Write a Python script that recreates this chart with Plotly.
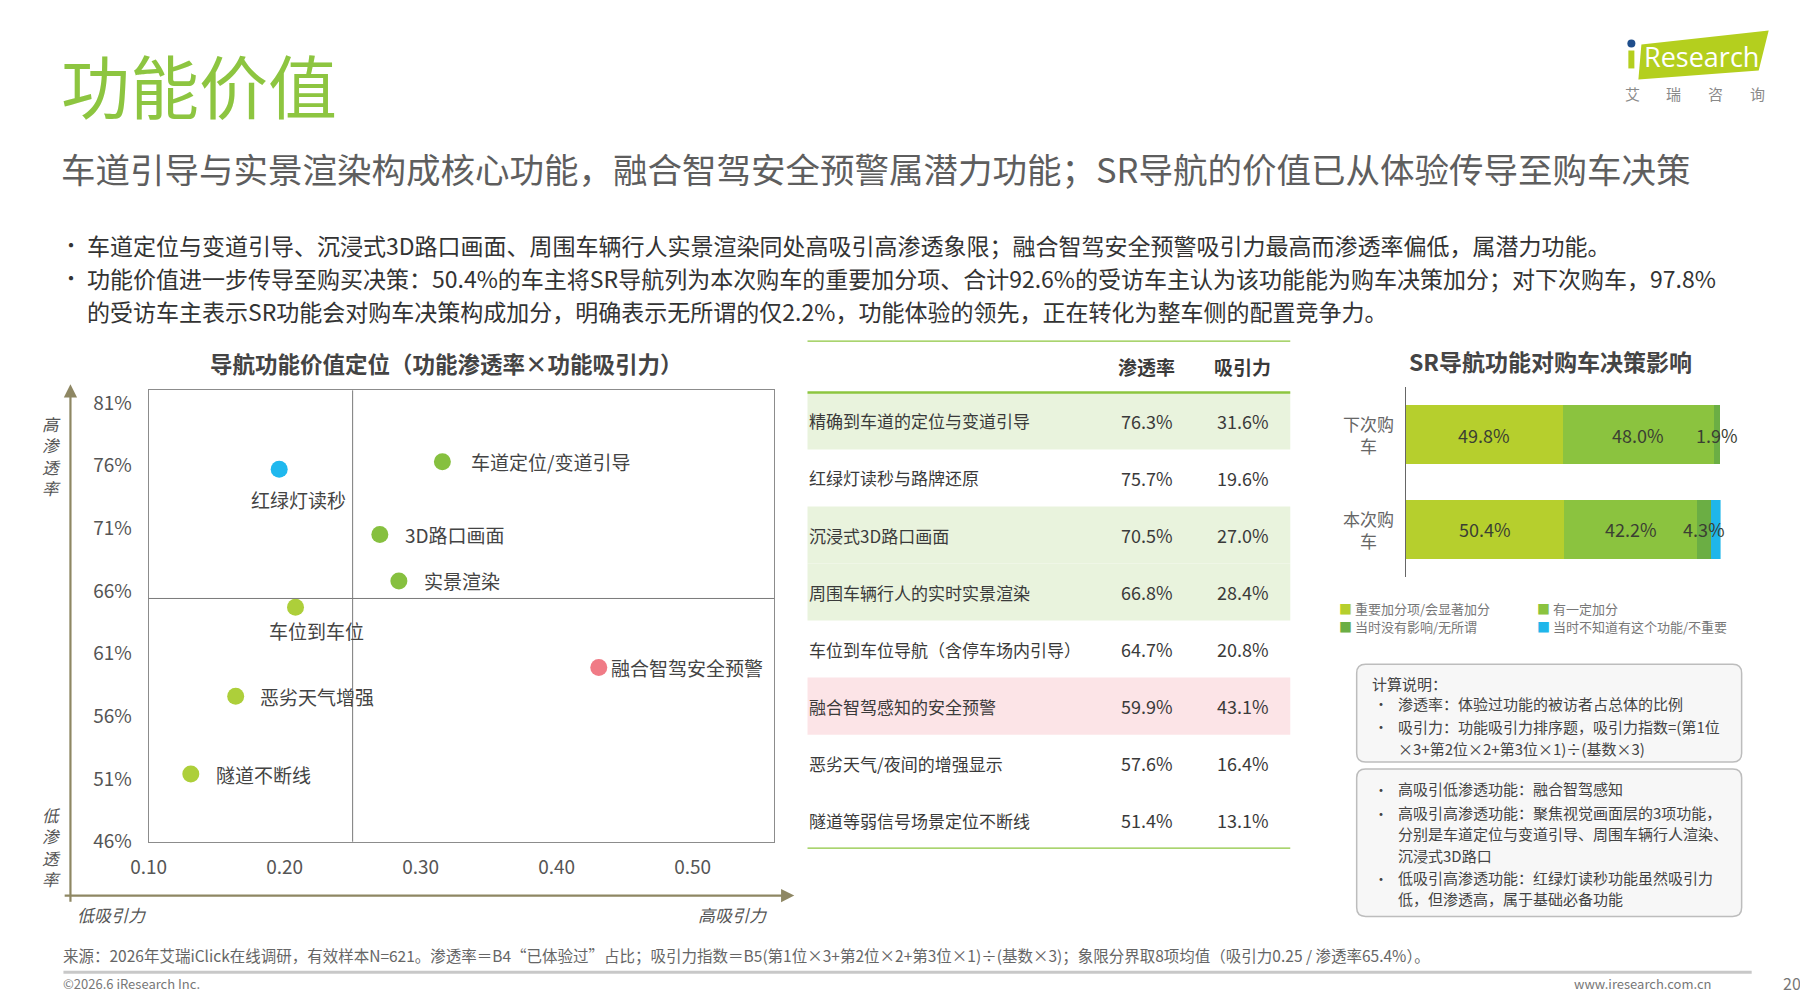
import plotly.graph_objects as go

W, H = 1808, 1006
FONT = "Noto Sans CJK SC"

# ---------------- data ----------------
features_full = ["精确到车道的定位与变道引导", "红绿灯读秒与路牌还原", "沉浸式3D路口画面",
                 "周围车辆行人的实时实景渲染", "车位到车位导航（含停车场内引导）",
                 "融合智驾感知的安全预警", "恶劣天气/夜间的增强显示", "隧道等弱信号场景定位不断线"]
features_short = ["车道定位/变道引导", "红绿灯读秒", "3D路口画面", "实景渲染",
                  "车位到车位", "融合智驾安全预警", "恶劣天气增强", "隧道不断线"]
penetration = [76.3, 75.7, 70.5, 66.8, 64.7, 59.9, 57.6, 51.4]   # %
attraction = [31.6, 19.6, 27.0, 28.4, 20.8, 43.1, 16.4, 13.1]    # %
quadrant = ["核心", "基础", "核心", "核心", "其他", "潜力", "其他", "其他"]

x_ticks = [0.10, 0.20, 0.30, 0.40, 0.50]
x_ticklabels = ["0.10", "0.20", "0.30", "0.40", "0.50"]
y_ticks = [46, 51, 56, 61, 66, 71, 76, 81]
y_ticklabels = ["46%", "51%", "56%", "61%", "66%", "71%", "76%", "81%"]
split_attraction = 0.25
split_penetration = 65.4

bar_categories = ["下次购车", "本次购车"]
bar_category_labels = ["下次购<br>车", "本次购<br>车"]
bar_series = ["重要加分项/会显著加分", "有一定加分", "当时没有影响/无所谓", "当时不知道有这个功能/不重要"]
bar_values = {
    "重要加分项/会显著加分": [49.8, 50.4],
    "有一定加分": [48.0, 42.2],
    "当时没有影响/无所谓": [1.9, 4.3],
    "当时不知道有这个功能/不重要": [0.0, 3.1],
}
bar_value_shown = {
    "重要加分项/会显著加分": [True, True],
    "有一定加分": [True, True],
    "当时没有影响/无所谓": [True, True],
    "当时不知道有这个功能/不重要": [False, False],
}
logo_chars = ["艾", "瑞", "咨", "询"]

# ---------------- styles ----------------
quad_color = {"核心": "#86C03F", "基础": "#1FB8EE", "其他": "#ADCF3A", "潜力": "#F07B86"}
row_fill = {"核心": "#E9F3DD", "潜力": "#FCE4E7", "基础": None, "其他": None}
bar_colors = ["#B6CF2D", "#8BC33F", "#6BAE44", "#1FB6EA"]
# label placement (pixel offsets from the point): (xanchor, xshift, yshift)
label_place = [("left", 27, 0), ("center", 19, -30), ("left", 23, 0), ("left", 23, 0),
               ("center", 21, -23), ("left", 10, 0), ("left", 22, 0), ("left", 23, 0)]

# screen calibration
SX, OX = 1.0126, -27.0
SY, OY = 1.0116, -12.5


def cx(x):
    return SX * x + OX


def cy(y):
    return SY * y + OY


def px(x):
    return cx(x) / W


def py(y):
    return 1 - cy(y) / H


fig = go.Figure()
annotations = []
shapes = []


def text(x, y, s, size=15, color="#444", xanchor="left", bold=False, italic=False,
         family=FONT, yanchor="middle", align="left"):
    annotations.append(dict(
        x=px(x), y=py(y), xref="paper", yref="paper", text=f"<b>{s}</b>" if bold else s,
        showarrow=False, xanchor=xanchor, yanchor=yanchor, align=align,
        font=dict(size=size, color=color, family=family, style="italic" if italic else "normal")))


# ---------------- header ----------------
text(60, 86, "功能价值", size=69, color="#8DC540")
text(60, 170, "车道引导与实景渲染构成核心功能，融合智驾安全预警属潜力功能；SR导航的价值已从体验传导至购车决策",
     size=34.5, color="#5E5E5E")
text(60, 247, "•", size=20, color="#333")
text(86, 247, "车道定位与变道引导、沉浸式3D路口画面、周围车辆行人实景渲染同处高吸引高渗透象限；融合智驾安全预警吸引力最高而渗透率偏低，属潜力功能。",
     size=23, color="#333")
text(60, 280, "•", size=20, color="#333")
text(86, 280, "功能价值进一步传导至购买决策：50.4%的车主将SR导航列为本次购车的重要加分项、合计92.6%的受访车主认为该功能能为购车决策加分；对下次购车，97.8%",
     size=23, color="#333")
text(86, 313, "的受访车主表示SR功能会对购车决策构成加分，明确表示无所谓的仅2.2%，功能体验的领先，正在转化为整车侧的配置竞争力。",
     size=23, color="#333")

# logo
shapes.append(dict(type="path", xref="paper", yref="paper",
                   path=f"M {px(1638)} {py(46)} L {px(1765)} {py(32)} L {px(1755)} {py(72)} L {px(1635)} {py(81)} Z",
                   fillcolor="#B4CF1E", line=dict(width=0)))
shapes.append(dict(type="circle", xref="paper", yref="paper",
                   x0=px(1624), x1=px(1632), y0=py(49), y1=py(41), fillcolor="#1F4E8C", line=dict(width=0)))
shapes.append(dict(type="rect", xref="paper", yref="paper",
                   x0=px(1625), x1=px(1631), y0=py(70), y1=py(52), fillcolor="#B4CF1E", line=dict(width=0)))
text(1639, 58, "Research", size=27, color="white", family="Open Sans")
for k, ch in enumerate(logo_chars):
    text(1629 + 41.5 * k, 95, ch, size=15, color="#8A8A8A", xanchor="center")

# ---------------- scatter (quadrant) ----------------
text(446, 366, "导航功能价值定位（功能渗透率×功能吸引力）", size=22.5, color="#444", xanchor="center", bold=True)

fig.add_trace(go.Scatter(
    x=[a / 100 for a in attraction], y=penetration, mode="markers",
    marker=dict(size=17, color=[quad_color[q] for q in quadrant], line=dict(width=0)),
    xaxis="x", yaxis="y", showlegend=False, hoverinfo="skip"))

for i, name in enumerate(features_short):
    xa, xs, ys = label_place[i]
    annotations.append(dict(x=attraction[i] / 100, y=penetration[i], xref="x", yref="y", text=name,
                            showarrow=False, xanchor=xa, yanchor="middle", xshift=xs, yshift=ys,
                            font=dict(size=19, color="#444", family=FONT)))

shapes.append(dict(type="line", xref="x", yref="y domain", x0=split_attraction, x1=split_attraction,
                   y0=0, y1=1, line=dict(color="#7A7A7A", width=1)))
shapes.append(dict(type="line", xref="x domain", yref="y", x0=0, x1=1, y0=split_penetration,
                   y1=split_penetration, line=dict(color="#7A7A7A", width=1)))

# outer arrows
ARROW = "#8E8763"
annotations.append(dict(x=px(71), y=py(387), xref="paper", yref="paper", ax=0, ay=cy(900) - cy(387),
                        axref="pixel", ayref="pixel", showarrow=True, arrowhead=2, arrowsize=1.2,
                        arrowwidth=2.2, arrowcolor=ARROW, text="", standoff=0))
annotations.append(dict(x=px(793), y=py(900), xref="paper", yref="paper", ax=cx(71) - cx(793), ay=0,
                        axref="pixel", ayref="pixel", showarrow=True, arrowhead=2, arrowsize=1.2,
                        arrowwidth=2.2, arrowcolor=ARROW, text="", standoff=0))
text(52, 459, "高<br>渗<br>透<br>率", size=16.5, color="#555", xanchor="center", italic=True, align="center")
text(52, 851, "低<br>渗<br>透<br>率", size=16.5, color="#555", xanchor="center", italic=True, align="center")
text(112, 919, "低吸引力", size=17, color="#555", xanchor="center", italic=True)
text(732, 919, "高吸引力", size=17, color="#555", xanchor="center", italic=True)

# ---------------- table ----------------
n = len(features_full)
for i in range(n):
    f = row_fill[quadrant[i]]
    if f:
        shapes.append(dict(type="rect", xref="x3", yref="y3", x0=0, x1=1, y0=i, y1=i + 1,
                           fillcolor=f, line=dict(width=0), layer="below"))
    annotations.append(dict(x=0, y=i + 0.5, xref="x3", yref="y3", text=features_full[i], showarrow=False,
                            xanchor="left", font=dict(size=17, color="#3A3A3A", family=FONT)))
    annotations.append(dict(x=0.702, y=i + 0.5, xref="x3", yref="y3", text=f"{penetration[i]:.1f}%",
                            showarrow=False, font=dict(size=18, color="#3A3A3A", family=FONT)))
    annotations.append(dict(x=0.901, y=i + 0.5, xref="x3", yref="y3", text=f"{attraction[i]:.1f}%",
                            showarrow=False, font=dict(size=18, color="#3A3A3A", family=FONT)))
for label, xv in (("渗透率", 0.702), ("吸引力", 0.901)):
    annotations.append(dict(x=xv, y=-0.46, xref="x3", yref="y3", text=f"<b>{label}</b>", showarrow=False,
                            font=dict(size=19, color="#3A3A3A", family=FONT)))
for yv in (-0.91, 0, n):
    shapes.append(dict(type="line", xref="x3", yref="y3", x0=0, x1=1, y0=yv, y1=yv,
                       line=dict(color="#8DC63F", width=2.5)))

# ---------------- stacked bar ----------------
text(1547, 364, "SR导航功能对购车决策影响", size=23, color="#444", xanchor="center", bold=True)
for k, s in enumerate(bar_series):
    fig.add_trace(go.Bar(
        y=bar_categories, x=bar_values[s], orientation="h", name=s, xaxis="x2", yaxis="y2",
        marker=dict(color=bar_colors[k], line=dict(width=0)), showlegend=False, hoverinfo="skip"))
# value labels at segment centres (on top of every segment)
for j, c in enumerate(bar_categories):
    cum = 0.0
    for s in bar_series:
        v = bar_values[s][j]
        if bar_value_shown[s][j]:
            annotations.append(dict(x=cum + v / 2, y=c, xref="x2", yref="y2", text=f"{v:.1f}%",
                                    showarrow=False, font=dict(size=18, color="#3B3F33", family=FONT)))
        cum += v
for c, lab in zip(bar_categories, bar_category_labels):
    annotations.append(dict(x=px(1366), y=c, xref="paper", yref="y2", text=lab, showarrow=False,
                            xanchor="center", align="center", font=dict(size=17, color="#666", family=FONT)))
legend_pos = [(1340, 612), (1538, 612), (1340, 630), (1538, 630)]
for k, s in enumerate(bar_series):
    lx, ly = legend_pos[k]
    text(lx - 6, ly, f'<span style="color:{bar_colors[k]}">■</span> {s}', size=13, color="#777")

# ---------------- notes boxes ----------------
def rounded(x0, y0, x1, y1, r=9):
    X0, X1, Y0, Y1 = px(x0), px(x1), py(y0), py(y1)
    rx, ry = r / W, r / H
    return (f"M {X0 + rx} {Y0} L {X1 - rx} {Y0} Q {X1} {Y0} {X1} {Y0 - ry} "
            f"L {X1} {Y1 + ry} Q {X1} {Y1} {X1 - rx} {Y1} L {X0 + rx} {Y1} Q {X0} {Y1} {X0} {Y1 + ry} "
            f"L {X0} {Y0 - ry} Q {X0} {Y0} {X0 + rx} {Y0} Z")


for (y0, y1) in ((668, 766), (773, 921)):
    shapes.append(dict(type="path", xref="paper", yref="paper", path=rounded(1354, y0, 1738, y1),
                       fillcolor="#F7F7F7", line=dict(color="#BDBDBD", width=1.5)))

note_lines = [
    (687, None, "计算说明："),
    (707, "•", "渗透率：体验过功能的被访者占总体的比例"),
    (730, "•", "吸引力：功能吸引力排序题，吸引力指数=(第1位"),
    (752, None, "×3+第2位×2+第3位×1)÷(基数×3)"),
    (793, "•", "高吸引低渗透功能：融合智驾感知"),
    (817, "•", "高吸引高渗透功能：聚焦视觉画面层的3项功能，"),
    (838, None, "分别是车道定位与变道引导、周围车辆行人渲染、"),
    (860, None, "沉浸式3D路口"),
    (882, "•", "低吸引高渗透功能：红绿灯读秒功能虽然吸引力"),
    (903, None, "低，但渗透高，属于基础必备功能"),
]
for yy, bullet, s in note_lines:
    if bullet:
        text(1369, yy, "•", size=14, color="#444")
    text(1367 if s == "计算说明：" else 1393, yy, s, size=15, color="#444")

# ---------------- footer ----------------
text(62, 960, "来源：2026年艾瑞iClick在线调研，有效样本N=621。渗透率＝B4“已体验过”占比；吸引力指数＝B5(第1位×3+第2位×2+第3位×1)÷(基数×3)；象限分界取8项均值（吸引力0.25 / 渗透率65.4%）。",
     size=15.5, color="#666")
shapes.append(dict(type="line", xref="paper", yref="paper", x0=px(64), x1=px(1748), y0=py(977), y1=py(977),
                   line=dict(color="#C8C8C8", width=3)))
text(62, 988, "©2026.6 iResearch Inc.", size=13, color="#777")
text(1710, 988, "www.iresearch.com.cn", size=13, color="#777", xanchor="right")
text(1788, 988, "20", size=16, color="#777", xanchor="center")

# ---------------- layout ----------------
fig.update_layout(
    width=W, height=H, margin=dict(l=0, r=0, t=0, b=0),
    paper_bgcolor="white", plot_bgcolor="white",
    font=dict(family=FONT),
    barmode="stack", bargap=0.38,
    xaxis=dict(domain=[px(149), px(773)], range=[0.10, 0.56], tickvals=x_ticks, ticktext=x_ticklabels,
               showline=True, mirror=True, linecolor="#8C8C8C", linewidth=1, showgrid=False, zeroline=False,
               ticks="", tickfont=dict(size=19, color="#555"), ticklabelstandoff=8, anchor="y"),
    yaxis=dict(domain=[py(846), py(393)], range=[46, 82], tickvals=y_ticks, ticktext=y_ticklabels,
               showline=True, mirror=True, linecolor="#8C8C8C", linewidth=1, showgrid=False, zeroline=False,
               ticks="", tickfont=dict(size=19, color="#555"), ticklabelstandoff=12, anchor="x"),
    xaxis2=dict(domain=[px(1403), px(1717)], range=[0, 100], visible=False, anchor="y2"),
    yaxis2=dict(domain=[py(580), py(390)], categoryorder="array", categoryarray=bar_categories[::-1],
                showline=True, linecolor="#666", linewidth=1, showticklabels=False, ticks="",
                showgrid=False, zeroline=False, anchor="x2"),
    xaxis3=dict(domain=[px(806), px(1288)], range=[0, 1], visible=False, anchor="y3"),
    yaxis3=dict(domain=[py(853), py(343)], range=[8, -0.91], visible=False, anchor="x3"),
    annotations=annotations, shapes=shapes,
)

fig.write_html("out.html")
